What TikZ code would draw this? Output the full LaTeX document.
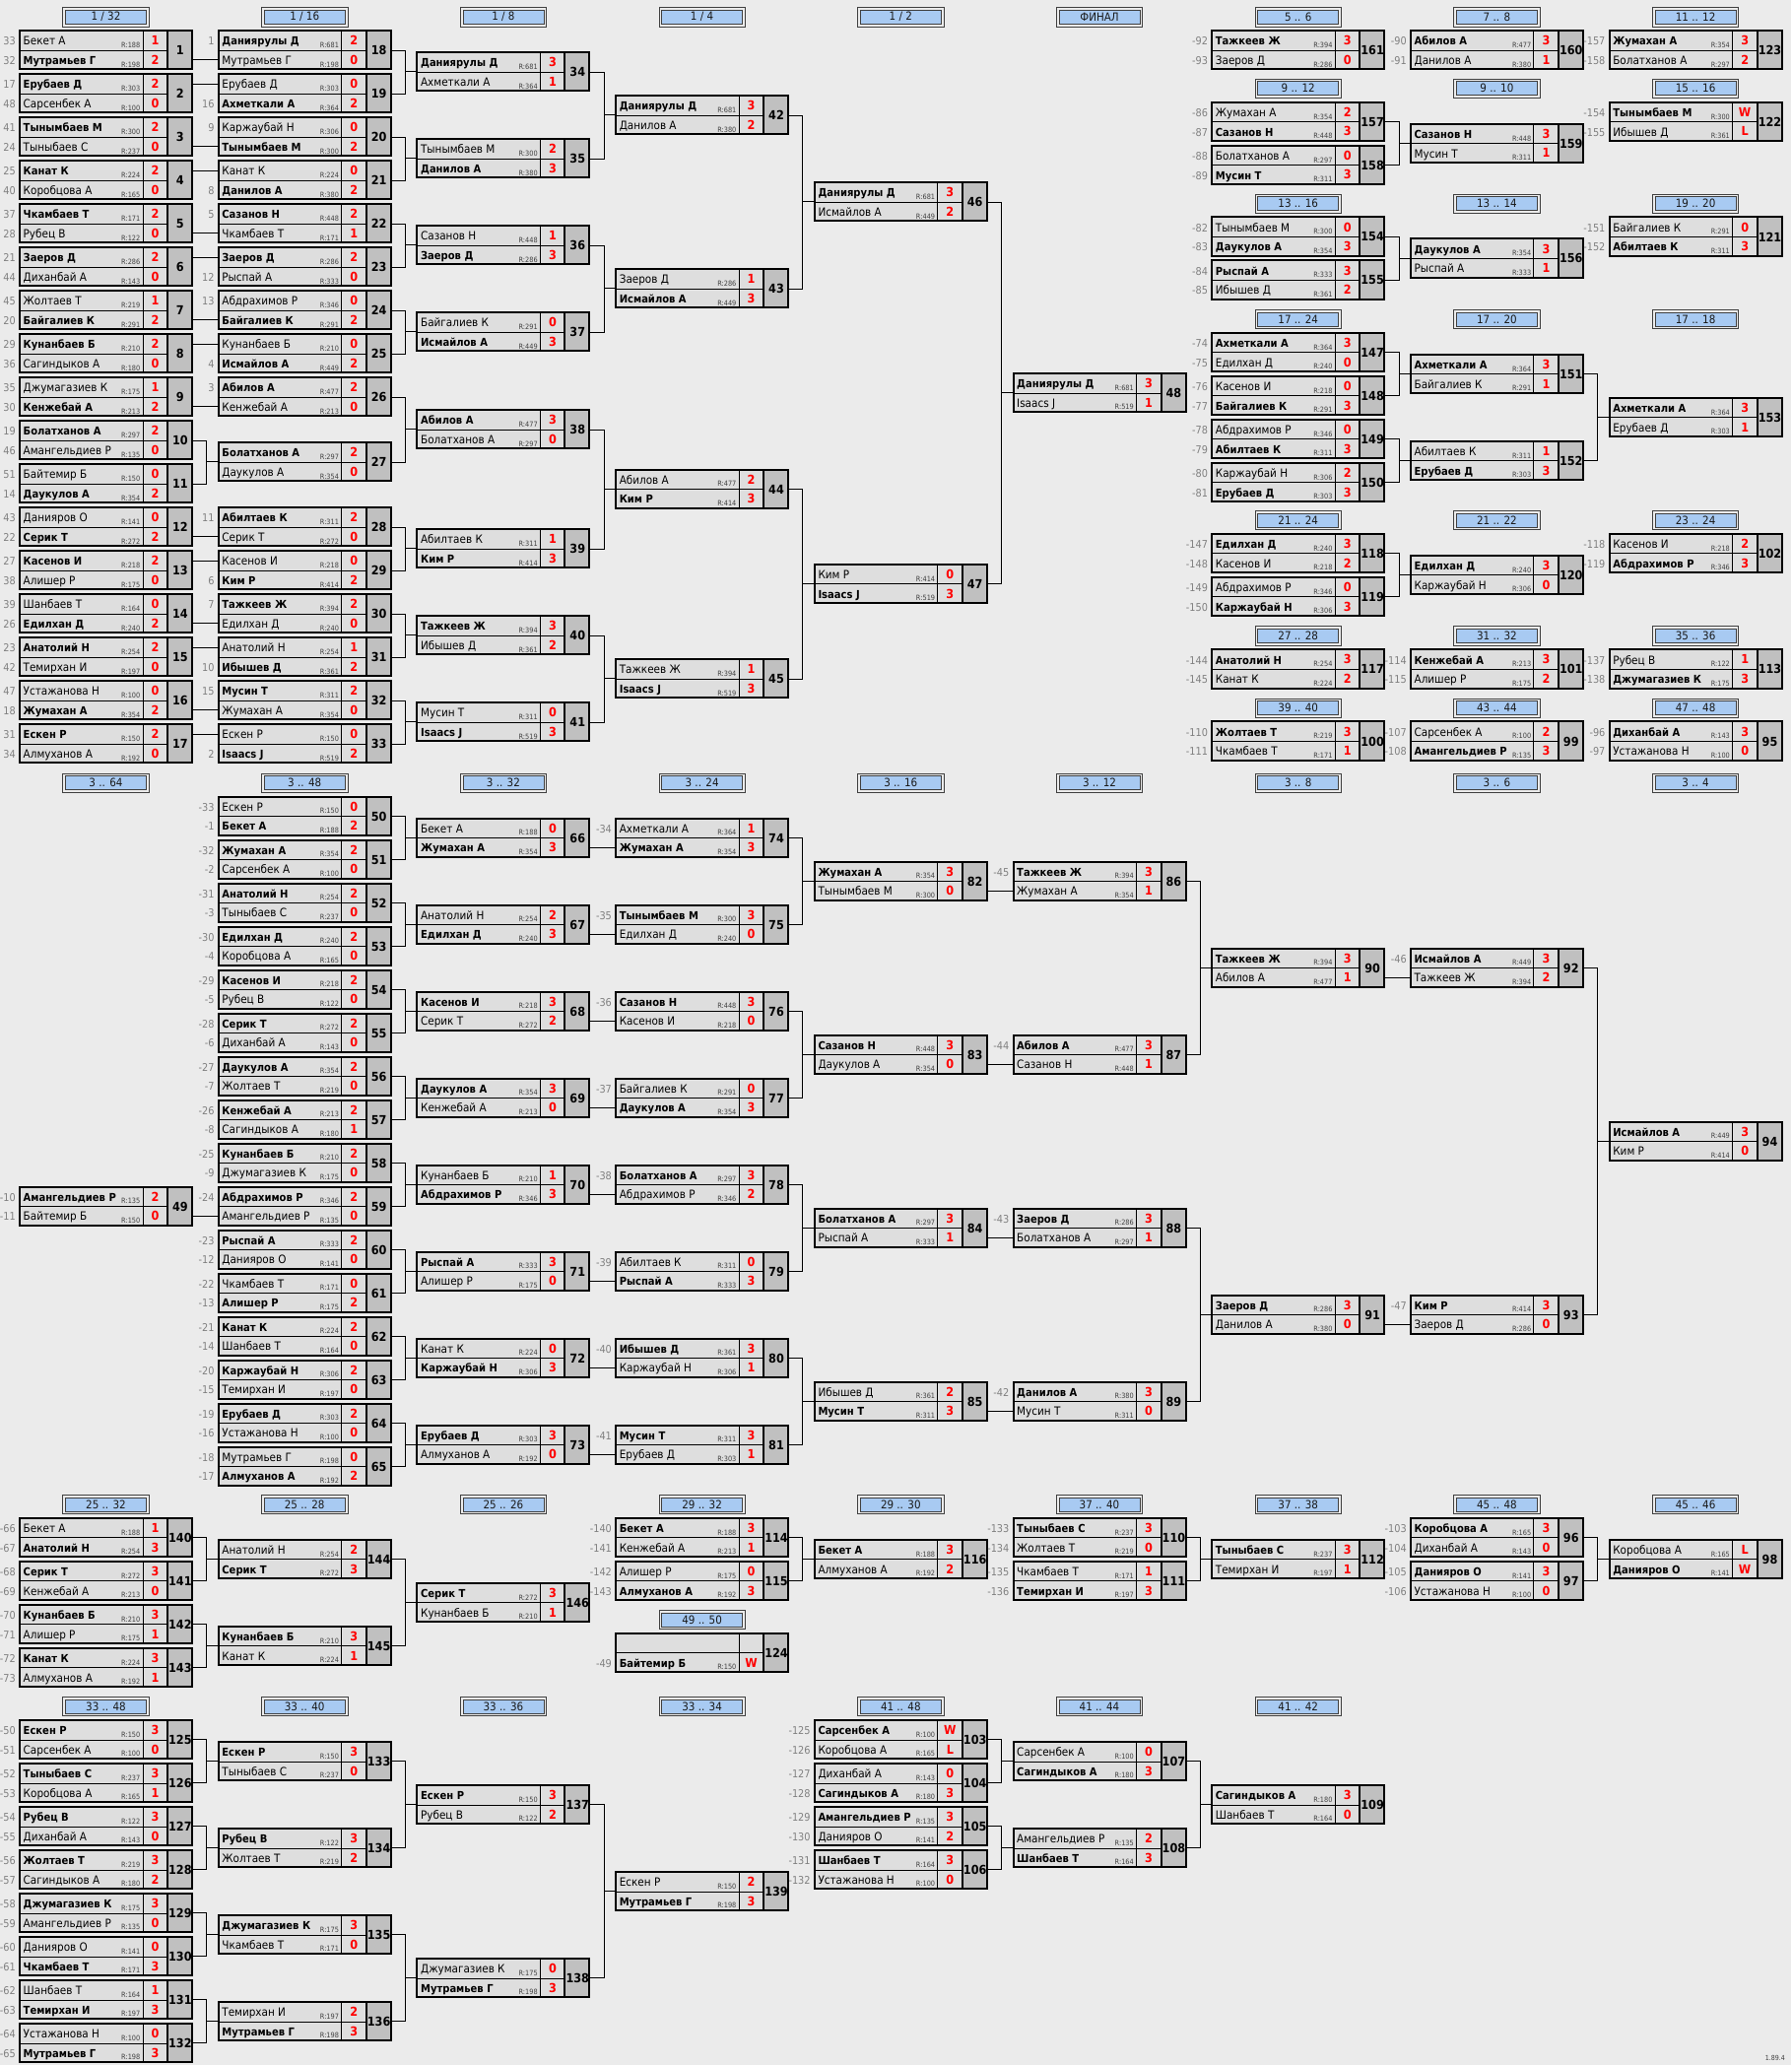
\documentclass[tikz,border=0pt]{standalone}
\usepackage{fontspec}
\setmainfont{DejaVu Sans}[FakeStretch=0.9]
\usepackage{tikz}
\definecolor{bgGray}{RGB}{235,235,235}
\definecolor{rowGray}{RGB}{222,222,222}
\definecolor{numGray}{RGB}{192,192,192}
\definecolor{hdrBlue}{RGB}{168,202,242}
\definecolor{seedGray}{RGB}{128,128,128}
\definecolor{rateGray}{RGB}{64,64,64}
\definecolor{scoreRed}{RGB}{255,0,0}

\def\prow#1#2#3#4#5#6/#7/#8/#9\relax{%
  \node[rowcell] (m#1-#2) at (#3,#4) {};
  \node[scorecell] (m#1-#2c) at (#3+124.5,#4) {#9};
  \node[seedtext] (m#1-#2s) at (#3-4,#4+14.8) {#6};
  \node[nametext] (m#1-#2n) at (#3+3.5,#4+14.8) {\ifnum#2=#5\relax\fontsize{11.1}{13}\selectfont\bfseries\fi#7};
  \ifx\relax#8\relax\else
    \node[ratetext] (m#1-#2r) at (#3+122.5,#4+17.4) {R:#8};
  \fi}
\newcommand{\match}[6]{%
  \prow{#1}{1}{#2}{#3}{#4}#5\relax
  \prow{#1}{2}{#2}{#3+19.65}{#4}#6\relax
  \node[numcell] (m#1) at (#2+150,#3) {#1};
  \draw[boxline] (#2,#3) rectangle (#2+175,#3+39.3) (#2+150,#3) -- (#2+150,#3+39.3);
  \coordinate (m#1w) at (#2,#3+19.65);}
\newcommand{\hdr}[4]{%
  \node[hdrbox] (#1) at (#2+87.5,#3+9.7) {};
  \node[hdrfill] (#1t) at (#1) {#4};}
\newcommand{\linkrow}[2]{\draw[wire] (m#1.east |- m#2.west) -- (m#2.west);}
\newcommand{\linkpair}[3]{\draw[wire] (m#1.east) -- ++(14,0) |- (m#3w) (m#2.east) -- ++(14,0) |- (m#3w);}

\begin{document}
\begin{tikzpicture}[
    x=1pt, y=-1pt,
    rowcell/.style={anchor=north west, draw=black, line width=0.6pt, fill=rowGray, minimum width=124.5pt, minimum height=19.65pt, inner sep=0},
    scorecell/.style={anchor=north west, draw=black, line width=0.6pt, fill=rowGray, minimum width=25.5pt, minimum height=19.65pt, inner sep=0, text=scoreRed, font=\fontsize{12.5}{14}\selectfont\bfseries},
    numcell/.style={anchor=north west, draw=black, line width=0.8pt, fill=numGray, minimum width=25pt, minimum height=39.3pt, inner sep=0, font=\fontsize{12.5}{14}\selectfont\bfseries},
    nametext/.style={anchor=base west, inner sep=0, font=\fontsize{11.6}{13}\selectfont},
    ratetext/.style={anchor=base east, inner sep=0, text=rateGray, font=\fontsize{7.3}{8}\selectfont},
    seedtext/.style={anchor=base east, inner sep=0, text=seedGray, font=\fontsize{10.8}{12}\selectfont},
    boxline/.style={draw=black, line width=2pt},
    wire/.style={draw=black, line width=1pt},
    hdrbox/.style={draw=black!75, line width=0.8pt, minimum width=87.4pt, minimum height=19.4pt, inner sep=0},
    hdrfill/.style={draw=black!75, fill=hdrBlue, line width=0.8pt, minimum width=82pt, minimum height=14pt, inner sep=0, text=black!90, font=\fontsize{11.5}{12}\selectfont}
]
    \useasboundingbox (0,0) rectangle (1818,2096);
    \fill[bgGray] (0,0) rectangle (1818,2096);

    \hdr{hA}{20}{7.5}{1 / 32}
    \hdr{hB}{221.7}{7.5}{1 / 16}
    \hdr{hC}{423.4}{7.5}{1 / 8}
    \hdr{hD}{625.1}{7.5}{1 / 4}
    \hdr{hE}{826.8}{7.5}{1 / 2}
    \hdr{hF}{1028.5}{7.5}{ФИНАЛ}
    \hdr{hG1}{1230.2}{7.5}{5 .. 6}
    \hdr{hH1}{1431.9}{7.5}{7 .. 8}
    \hdr{hI1}{1633.6}{7.5}{11 .. 12}
    \hdr{hG2}{1230.2}{80.1}{9 .. 12}
    \hdr{hH2}{1431.9}{80.1}{9 .. 10}
    \hdr{hI2}{1633.6}{80.1}{15 .. 16}
    \hdr{hG3}{1230.2}{196.9}{13 .. 16}
    \hdr{hH3}{1431.9}{196.9}{13 .. 14}
    \hdr{hI3}{1633.6}{196.9}{19 .. 20}
    \hdr{hG4}{1230.2}{314.3}{17 .. 24}
    \hdr{hH4}{1431.9}{314.3}{17 .. 20}
    \hdr{hI4}{1633.6}{314.3}{17 .. 18}
    \hdr{hG5}{1230.2}{518.3}{21 .. 24}
    \hdr{hH5}{1431.9}{518.3}{21 .. 22}
    \hdr{hI5}{1633.6}{518.3}{23 .. 24}
    \hdr{hG6}{1230.2}{635.7}{27 .. 28}
    \hdr{hH6}{1431.9}{635.7}{31 .. 32}
    \hdr{hI6}{1633.6}{635.7}{35 .. 36}
    \hdr{hG7}{1230.2}{708.9}{39 .. 40}
    \hdr{hH7}{1431.9}{708.9}{43 .. 44}
    \hdr{hI7}{1633.6}{708.9}{47 .. 48}
    \hdr{lA}{20}{785}{3 .. 64}
    \hdr{lB}{221.7}{785}{3 .. 48}
    \hdr{lC}{423.4}{785}{3 .. 32}
    \hdr{lD}{625.1}{785}{3 .. 24}
    \hdr{lE}{826.8}{785}{3 .. 16}
    \hdr{lF}{1028.5}{785}{3 .. 12}
    \hdr{lG}{1230.2}{785}{3 .. 8}
    \hdr{lH}{1431.9}{785}{3 .. 6}
    \hdr{lI}{1633.6}{785}{3 .. 4}
    \hdr{bA}{20}{1517.2}{25 .. 32}
    \hdr{bB}{221.7}{1517.2}{25 .. 28}
    \hdr{bC}{423.4}{1517.2}{25 .. 26}
    \hdr{bD}{625.1}{1517.2}{29 .. 32}
    \hdr{bE}{826.8}{1517.2}{29 .. 30}
    \hdr{bF}{1028.5}{1517.2}{37 .. 40}
    \hdr{bG}{1230.2}{1517.2}{37 .. 38}
    \hdr{bH}{1431.9}{1517.2}{45 .. 48}
    \hdr{bI}{1633.6}{1517.2}{45 .. 46}
    \hdr{bD2}{625.1}{1634.2}{49 .. 50}
    \hdr{cA}{20}{1722.4}{33 .. 48}
    \hdr{cB}{221.7}{1722.4}{33 .. 40}
    \hdr{cC}{423.4}{1722.4}{33 .. 36}
    \hdr{cD}{625.1}{1722.4}{33 .. 34}
    \hdr{cE}{826.8}{1722.4}{41 .. 48}
    \hdr{cF}{1028.5}{1722.4}{41 .. 44}
    \hdr{cG}{1230.2}{1722.4}{41 .. 42}

    \match{1}{20}{31}{2}{33/Бекет А/188/1}{32/Мутрамьев Г/198/2}
    \match{2}{20}{75}{1}{17/Ерубаев Д/303/2}{48/Сарсенбек А/100/0}
    \match{3}{20}{119}{1}{41/Тынымбаев М/300/2}{24/Тыныбаев С/237/0}
    \match{4}{20}{163}{1}{25/Канат К/224/2}{40/Коробцова А/165/0}
    \match{5}{20}{207}{1}{37/Чкамбаев Т/171/2}{28/Рубец В/122/0}
    \match{6}{20}{251}{1}{21/Заеров Д/286/2}{44/Диханбай А/143/0}
    \match{7}{20}{295}{2}{45/Жолтаев Т/219/1}{20/Байгалиев К/291/2}
    \match{8}{20}{339}{1}{29/Кунанбаев Б/210/2}{36/Сагиндыков А/180/0}
    \match{9}{20}{383}{2}{35/Джумагазиев К/175/1}{30/Кенжебай А/213/2}
    \match{10}{20}{427}{1}{19/Болатханов А/297/2}{46/Амангельдиев Р/135/0}
    \match{11}{20}{471}{2}{51/Байтемир Б/150/0}{14/Даукулов А/354/2}
    \match{12}{20}{515}{2}{43/Данияров О/141/0}{22/Серик Т/272/2}
    \match{13}{20}{559}{1}{27/Касенов И/218/2}{38/Алишер Р/175/0}
    \match{14}{20}{603}{2}{39/Шанбаев Т/164/0}{26/Едилхан Д/240/2}
    \match{15}{20}{647}{1}{23/Анатолий Н/254/2}{42/Темирхан И/197/0}
    \match{16}{20}{691}{2}{47/Устажанова Н/100/0}{18/Жумахан А/354/2}
    \match{17}{20}{735}{1}{31/Ескен Р/150/2}{34/Алмуханов А/192/0}

    \match{18}{221.7}{31}{1}{1/Даниярулы Д/681/2}{/Мутрамьев Г/198/0}
    \match{19}{221.7}{75}{2}{/Ерубаев Д/303/0}{16/Ахметкали А/364/2}
    \match{20}{221.7}{119}{2}{9/Каржаубай Н/306/0}{/Тынымбаев М/300/2}
    \match{21}{221.7}{163}{2}{/Канат К/224/0}{8/Данилов А/380/2}
    \match{22}{221.7}{207}{1}{5/Сазанов Н/448/2}{/Чкамбаев Т/171/1}
    \match{23}{221.7}{251}{1}{/Заеров Д/286/2}{12/Рыспай А/333/0}
    \match{24}{221.7}{295}{2}{13/Абдрахимов Р/346/0}{/Байгалиев К/291/2}
    \match{25}{221.7}{339}{2}{/Кунанбаев Б/210/0}{4/Исмайлов А/449/2}
    \match{26}{221.7}{383}{1}{3/Абилов А/477/2}{/Кенжебай А/213/0}
    \match{27}{221.7}{449}{1}{/Болатханов А/297/2}{/Даукулов А/354/0}
    \match{28}{221.7}{515}{1}{11/Абилтаев К/311/2}{/Серик Т/272/0}
    \match{29}{221.7}{559}{2}{/Касенов И/218/0}{6/Ким Р/414/2}
    \match{30}{221.7}{603}{1}{7/Тажкеев Ж/394/2}{/Едилхан Д/240/0}
    \match{31}{221.7}{647}{2}{/Анатолий Н/254/1}{10/Ибышев Д/361/2}
    \match{32}{221.7}{691}{1}{15/Мусин Т/311/2}{/Жумахан А/354/0}
    \match{33}{221.7}{735}{2}{/Ескен Р/150/0}{2/Isaacs J/519/2}

    \match{34}{423.4}{53}{1}{/Даниярулы Д/681/3}{/Ахметкали А/364/1}
    \match{35}{423.4}{141}{2}{/Тынымбаев М/300/2}{/Данилов А/380/3}
    \match{36}{423.4}{229}{2}{/Сазанов Н/448/1}{/Заеров Д/286/3}
    \match{37}{423.4}{317}{2}{/Байгалиев К/291/0}{/Исмайлов А/449/3}
    \match{38}{423.4}{416}{1}{/Абилов А/477/3}{/Болатханов А/297/0}
    \match{39}{423.4}{537}{2}{/Абилтаев К/311/1}{/Ким Р/414/3}
    \match{40}{423.4}{625}{1}{/Тажкеев Ж/394/3}{/Ибышев Д/361/2}
    \match{41}{423.4}{713}{2}{/Мусин Т/311/0}{/Isaacs J/519/3}

    \match{42}{625.1}{97}{1}{/Даниярулы Д/681/3}{/Данилов А/380/2}
    \match{43}{625.1}{273}{2}{/Заеров Д/286/1}{/Исмайлов А/449/3}
    \match{44}{625.1}{476.5}{2}{/Абилов А/477/2}{/Ким Р/414/3}
    \match{45}{625.1}{669}{2}{/Тажкеев Ж/394/1}{/Isaacs J/519/3}

    \match{46}{826.8}{185}{1}{/Даниярулы Д/681/3}{/Исмайлов А/449/2}
    \match{47}{826.8}{572.75}{2}{/Ким Р/414/0}{/Isaacs J/519/3}

    \match{48}{1028.5}{378.9}{1}{/Даниярулы Д/681/3}{/Isaacs J/519/1}

    \match{161}{1230.2}{31}{1}{-92/Тажкеев Ж/394/3}{-93/Заеров Д/286/0}
    \match{157}{1230.2}{103.6}{2}{-86/Жумахан А/354/2}{-87/Сазанов Н/448/3}
    \match{158}{1230.2}{147.6}{2}{-88/Болатханов А/297/0}{-89/Мусин Т/311/3}
    \match{154}{1230.2}{220.4}{2}{-82/Тынымбаев М/300/0}{-83/Даукулов А/354/3}
    \match{155}{1230.2}{264.4}{1}{-84/Рыспай А/333/3}{-85/Ибышев Д/361/2}
    \match{147}{1230.2}{337.8}{1}{-74/Ахметкали А/364/3}{-75/Едилхан Д/240/0}
    \match{148}{1230.2}{381.8}{2}{-76/Касенов И/218/0}{-77/Байгалиев К/291/3}
    \match{149}{1230.2}{425.8}{2}{-78/Абдрахимов Р/346/0}{-79/Абилтаев К/311/3}
    \match{150}{1230.2}{469.8}{2}{-80/Каржаубай Н/306/2}{-81/Ерубаев Д/303/3}
    \match{118}{1230.2}{541.8}{1}{-147/Едилхан Д/240/3}{-148/Касенов И/218/2}
    \match{119}{1230.2}{585.8}{2}{-149/Абдрахимов Р/346/0}{-150/Каржаубай Н/306/3}
    \match{117}{1230.2}{659.2}{1}{-144/Анатолий Н/254/3}{-145/Канат К/224/2}
    \match{100}{1230.2}{732.4}{1}{-110/Жолтаев Т/219/3}{-111/Чкамбаев Т/171/1}

    \match{160}{1431.9}{31}{1}{-90/Абилов А/477/3}{-91/Данилов А/380/1}
    \match{159}{1431.9}{125.6}{1}{/Сазанов Н/448/3}{/Мусин Т/311/1}
    \match{156}{1431.9}{242.4}{1}{/Даукулов А/354/3}{/Рыспай А/333/1}
    \match{151}{1431.9}{359.8}{1}{/Ахметкали А/364/3}{/Байгалиев К/291/1}
    \match{152}{1431.9}{447.8}{2}{/Абилтаев К/311/1}{/Ерубаев Д/303/3}
    \match{120}{1431.9}{563.8}{1}{/Едилхан Д/240/3}{/Каржаубай Н/306/0}
    \match{101}{1431.9}{659.2}{1}{-114/Кенжебай А/213/3}{-115/Алишер Р/175/2}
    \match{99}{1431.9}{732.4}{2}{-107/Сарсенбек А/100/2}{-108/Амангельдиев Р/135/3}

    \match{123}{1633.6}{31}{1}{-157/Жумахан А/354/3}{-158/Болатханов А/297/2}
    \match{122}{1633.6}{103.6}{1}{-154/Тынымбаев М/300/W}{-155/Ибышев Д/361/L}
    \match{121}{1633.6}{220.4}{2}{-151/Байгалиев К/291/0}{-152/Абилтаев К/311/3}
    \match{153}{1633.6}{403.8}{1}{/Ахметкали А/364/3}{/Ерубаев Д/303/1}
    \match{102}{1633.6}{541.8}{2}{-118/Касенов И/218/2}{-119/Абдрахимов Р/346/3}
    \match{113}{1633.6}{659.2}{2}{-137/Рубец В/122/1}{-138/Джумагазиев К/175/3}
    \match{95}{1633.6}{732.4}{1}{-96/Диханбай А/143/3}{-97/Устажанова Н/100/0}

    \match{49}{20}{1204.5}{1}{-10/Амангельдиев Р/135/2}{-11/Байтемир Б/150/0}

    \match{50}{221.7}{808.5}{2}{-33/Ескен Р/150/0}{-1/Бекет А/188/2}
    \match{51}{221.7}{852.5}{1}{-32/Жумахан А/354/2}{-2/Сарсенбек А/100/0}
    \match{52}{221.7}{896.5}{1}{-31/Анатолий Н/254/2}{-3/Тыныбаев С/237/0}
    \match{53}{221.7}{940.5}{1}{-30/Едилхан Д/240/2}{-4/Коробцова А/165/0}
    \match{54}{221.7}{984.5}{1}{-29/Касенов И/218/2}{-5/Рубец В/122/0}
    \match{55}{221.7}{1028.5}{1}{-28/Серик Т/272/2}{-6/Диханбай А/143/0}
    \match{56}{221.7}{1072.5}{1}{-27/Даукулов А/354/2}{-7/Жолтаев Т/219/0}
    \match{57}{221.7}{1116.5}{1}{-26/Кенжебай А/213/2}{-8/Сагиндыков А/180/1}
    \match{58}{221.7}{1160.5}{1}{-25/Кунанбаев Б/210/2}{-9/Джумагазиев К/175/0}
    \match{59}{221.7}{1204.5}{1}{-24/Абдрахимов Р/346/2}{/Амангельдиев Р/135/0}
    \match{60}{221.7}{1248.5}{1}{-23/Рыспай А/333/2}{-12/Данияров О/141/0}
    \match{61}{221.7}{1292.5}{2}{-22/Чкамбаев Т/171/0}{-13/Алишер Р/175/2}
    \match{62}{221.7}{1336.5}{1}{-21/Канат К/224/2}{-14/Шанбаев Т/164/0}
    \match{63}{221.7}{1380.5}{1}{-20/Каржаубай Н/306/2}{-15/Темирхан И/197/0}
    \match{64}{221.7}{1424.5}{1}{-19/Ерубаев Д/303/2}{-16/Устажанова Н/100/0}
    \match{65}{221.7}{1468.5}{2}{-18/Мутрамьев Г/198/0}{-17/Алмуханов А/192/2}

    \match{66}{423.4}{830.5}{2}{/Бекет А/188/0}{/Жумахан А/354/3}
    \match{67}{423.4}{918.5}{2}{/Анатолий Н/254/2}{/Едилхан Д/240/3}
    \match{68}{423.4}{1006.5}{1}{/Касенов И/218/3}{/Серик Т/272/2}
    \match{69}{423.4}{1094.5}{1}{/Даукулов А/354/3}{/Кенжебай А/213/0}
    \match{70}{423.4}{1182.5}{2}{/Кунанбаев Б/210/1}{/Абдрахимов Р/346/3}
    \match{71}{423.4}{1270.5}{1}{/Рыспай А/333/3}{/Алишер Р/175/0}
    \match{72}{423.4}{1358.5}{2}{/Канат К/224/0}{/Каржаубай Н/306/3}
    \match{73}{423.4}{1446.5}{1}{/Ерубаев Д/303/3}{/Алмуханов А/192/0}

    \match{74}{625.1}{830.5}{2}{-34/Ахметкали А/364/1}{/Жумахан А/354/3}
    \match{75}{625.1}{918.5}{1}{-35/Тынымбаев М/300/3}{/Едилхан Д/240/0}
    \match{76}{625.1}{1006.5}{1}{-36/Сазанов Н/448/3}{/Касенов И/218/0}
    \match{77}{625.1}{1094.5}{2}{-37/Байгалиев К/291/0}{/Даукулов А/354/3}
    \match{78}{625.1}{1182.5}{1}{-38/Болатханов А/297/3}{/Абдрахимов Р/346/2}
    \match{79}{625.1}{1270.5}{2}{-39/Абилтаев К/311/0}{/Рыспай А/333/3}
    \match{80}{625.1}{1358.5}{1}{-40/Ибышев Д/361/3}{/Каржаубай Н/306/1}
    \match{81}{625.1}{1446.5}{1}{-41/Мусин Т/311/3}{/Ерубаев Д/303/1}

    \match{82}{826.8}{874.5}{1}{/Жумахан А/354/3}{/Тынымбаев М/300/0}
    \match{83}{826.8}{1050.5}{1}{/Сазанов Н/448/3}{/Даукулов А/354/0}
    \match{84}{826.8}{1226.5}{1}{/Болатханов А/297/3}{/Рыспай А/333/1}
    \match{85}{826.8}{1402.5}{2}{/Ибышев Д/361/2}{/Мусин Т/311/3}

    \match{86}{1028.5}{874.5}{1}{-45/Тажкеев Ж/394/3}{/Жумахан А/354/1}
    \match{87}{1028.5}{1050.5}{1}{-44/Абилов А/477/3}{/Сазанов Н/448/1}
    \match{88}{1028.5}{1226.5}{1}{-43/Заеров Д/286/3}{/Болатханов А/297/1}
    \match{89}{1028.5}{1402.5}{1}{-42/Данилов А/380/3}{/Мусин Т/311/0}

    \match{90}{1230.2}{962.5}{1}{/Тажкеев Ж/394/3}{/Абилов А/477/1}
    \match{91}{1230.2}{1314.5}{1}{/Заеров Д/286/3}{/Данилов А/380/0}
    \match{92}{1431.9}{962.5}{1}{-46/Исмайлов А/449/3}{/Тажкеев Ж/394/2}
    \match{93}{1431.9}{1314.5}{1}{-47/Ким Р/414/3}{/Заеров Д/286/0}
    \match{94}{1633.6}{1138.5}{1}{/Исмайлов А/449/3}{/Ким Р/414/0}

    \match{140}{20}{1540.7}{2}{-66/Бекет А/188/1}{-67/Анатолий Н/254/3}
    \match{141}{20}{1584.7}{1}{-68/Серик Т/272/3}{-69/Кенжебай А/213/0}
    \match{142}{20}{1628.7}{1}{-70/Кунанбаев Б/210/3}{-71/Алишер Р/175/1}
    \match{143}{20}{1672.7}{1}{-72/Канат К/224/3}{-73/Алмуханов А/192/1}
    \match{144}{221.7}{1562.7}{2}{/Анатолий Н/254/2}{/Серик Т/272/3}
    \match{145}{221.7}{1650.7}{1}{/Кунанбаев Б/210/3}{/Канат К/224/1}
    \match{146}{423.4}{1606.7}{1}{/Серик Т/272/3}{/Кунанбаев Б/210/1}
    \match{114}{625.1}{1540.7}{1}{-140/Бекет А/188/3}{-141/Кенжебай А/213/1}
    \match{115}{625.1}{1584.7}{2}{-142/Алишер Р/175/0}{-143/Алмуханов А/192/3}
    \match{124}{625.1}{1657.7}{2}{///}{-49/Байтемир Б/150/W}
    \match{116}{826.8}{1562.7}{1}{/Бекет А/188/3}{/Алмуханов А/192/2}
    \match{110}{1028.5}{1540.7}{1}{-133/Тыныбаев С/237/3}{-134/Жолтаев Т/219/0}
    \match{111}{1028.5}{1584.7}{2}{-135/Чкамбаев Т/171/1}{-136/Темирхан И/197/3}
    \match{112}{1230.2}{1562.7}{1}{/Тыныбаев С/237/3}{/Темирхан И/197/1}
    \match{96}{1431.9}{1540.7}{1}{-103/Коробцова А/165/3}{-104/Диханбай А/143/0}
    \match{97}{1431.9}{1584.7}{1}{-105/Данияров О/141/3}{-106/Устажанова Н/100/0}
    \match{98}{1633.6}{1562.7}{2}{/Коробцова А/165/L}{/Данияров О/141/W}

    \match{125}{20}{1745.9}{1}{-50/Ескен Р/150/3}{-51/Сарсенбек А/100/0}
    \match{126}{20}{1789.9}{1}{-52/Тыныбаев С/237/3}{-53/Коробцова А/165/1}
    \match{127}{20}{1833.9}{1}{-54/Рубец В/122/3}{-55/Диханбай А/143/0}
    \match{128}{20}{1877.9}{1}{-56/Жолтаев Т/219/3}{-57/Сагиндыков А/180/2}
    \match{129}{20}{1921.9}{1}{-58/Джумагазиев К/175/3}{-59/Амангельдиев Р/135/0}
    \match{130}{20}{1965.9}{2}{-60/Данияров О/141/0}{-61/Чкамбаев Т/171/3}
    \match{131}{20}{2009.9}{2}{-62/Шанбаев Т/164/1}{-63/Темирхан И/197/3}
    \match{132}{20}{2053.9}{2}{-64/Устажанова Н/100/0}{-65/Мутрамьев Г/198/3}
    \match{133}{221.7}{1767.9}{1}{/Ескен Р/150/3}{/Тыныбаев С/237/0}
    \match{134}{221.7}{1855.9}{1}{/Рубец В/122/3}{/Жолтаев Т/219/2}
    \match{135}{221.7}{1943.9}{1}{/Джумагазиев К/175/3}{/Чкамбаев Т/171/0}
    \match{136}{221.7}{2031.9}{2}{/Темирхан И/197/2}{/Мутрамьев Г/198/3}
    \match{137}{423.4}{1811.9}{1}{/Ескен Р/150/3}{/Рубец В/122/2}
    \match{138}{423.4}{1987.9}{2}{/Джумагазиев К/175/0}{/Мутрамьев Г/198/3}
    \match{139}{625.1}{1899.9}{2}{/Ескен Р/150/2}{/Мутрамьев Г/198/3}
    \match{103}{826.8}{1745.9}{1}{-125/Сарсенбек А/100/W}{-126/Коробцова А/165/L}
    \match{104}{826.8}{1789.9}{2}{-127/Диханбай А/143/0}{-128/Сагиндыков А/180/3}
    \match{105}{826.8}{1833.9}{1}{-129/Амангельдиев Р/135/3}{-130/Данияров О/141/2}
    \match{106}{826.8}{1877.9}{1}{-131/Шанбаев Т/164/3}{-132/Устажанова Н/100/0}
    \match{107}{1028.5}{1767.9}{2}{/Сарсенбек А/100/0}{/Сагиндыков А/180/3}
    \match{108}{1028.5}{1855.9}{2}{/Амангельдиев Р/135/2}{/Шанбаев Т/164/3}
    \match{109}{1230.2}{1811.9}{1}{/Сагиндыков А/180/3}{/Шанбаев Т/164/0}

    \linkrow{1}{18-2}
    \linkrow{2}{19-1}
    \linkrow{3}{20-2}
    \linkrow{4}{21-1}
    \linkrow{5}{22-2}
    \linkrow{6}{23-1}
    \linkrow{7}{24-2}
    \linkrow{8}{25-1}
    \linkrow{9}{26-2}
    \linkpair{10}{11}{27}
    \linkrow{12}{28-2}
    \linkrow{13}{29-1}
    \linkrow{14}{30-2}
    \linkrow{15}{31-1}
    \linkrow{16}{32-2}
    \linkrow{17}{33-1}
    \linkpair{18}{19}{34}
    \linkpair{20}{21}{35}
    \linkpair{22}{23}{36}
    \linkpair{24}{25}{37}
    \linkpair{26}{27}{38}
    \linkpair{28}{29}{39}
    \linkpair{30}{31}{40}
    \linkpair{32}{33}{41}
    \linkpair{34}{35}{42}
    \linkpair{36}{37}{43}
    \linkpair{38}{39}{44}
    \linkpair{40}{41}{45}
    \linkpair{42}{43}{46}
    \linkpair{44}{45}{47}
    \linkpair{46}{47}{48}

    \linkpair{157}{158}{159}
    \linkpair{154}{155}{156}
    \linkpair{147}{148}{151}
    \linkpair{149}{150}{152}
    \linkpair{151}{152}{153}
    \linkpair{118}{119}{120}

    \linkrow{49}{59-2}
    \linkpair{50}{51}{66}
    \linkpair{52}{53}{67}
    \linkpair{54}{55}{68}
    \linkpair{56}{57}{69}
    \linkpair{58}{59}{70}
    \linkpair{60}{61}{71}
    \linkpair{62}{63}{72}
    \linkpair{64}{65}{73}
    \linkrow{66}{74-2}
    \linkrow{67}{75-2}
    \linkrow{68}{76-2}
    \linkrow{69}{77-2}
    \linkrow{70}{78-2}
    \linkrow{71}{79-2}
    \linkrow{72}{80-2}
    \linkrow{73}{81-2}
    \linkpair{74}{75}{82}
    \linkpair{76}{77}{83}
    \linkpair{78}{79}{84}
    \linkpair{80}{81}{85}
    \linkrow{82}{86-2}
    \linkrow{83}{87-2}
    \linkrow{84}{88-2}
    \linkrow{85}{89-2}
    \linkpair{86}{87}{90}
    \linkpair{88}{89}{91}
    \linkrow{90}{92-2}
    \linkrow{91}{93-2}
    \linkpair{92}{93}{94}

    \linkpair{140}{141}{144}
    \linkpair{142}{143}{145}
    \linkpair{144}{145}{146}
    \linkpair{114}{115}{116}
    \linkpair{110}{111}{112}
    \linkpair{96}{97}{98}
    \linkpair{125}{126}{133}
    \linkpair{127}{128}{134}
    \linkpair{129}{130}{135}
    \linkpair{131}{132}{136}
    \linkpair{133}{134}{137}
    \linkpair{135}{136}{138}
    \linkpair{137}{138}{139}
    \linkpair{103}{104}{107}
    \linkpair{105}{106}{108}
    \linkpair{107}{108}{109}

    \node[anchor=base east, inner sep=0, text=rateGray, font=\fontsize{7}{8}\selectfont] (ver) at (1812,2091) {1.89.4};
\end{tikzpicture}
\end{document}
